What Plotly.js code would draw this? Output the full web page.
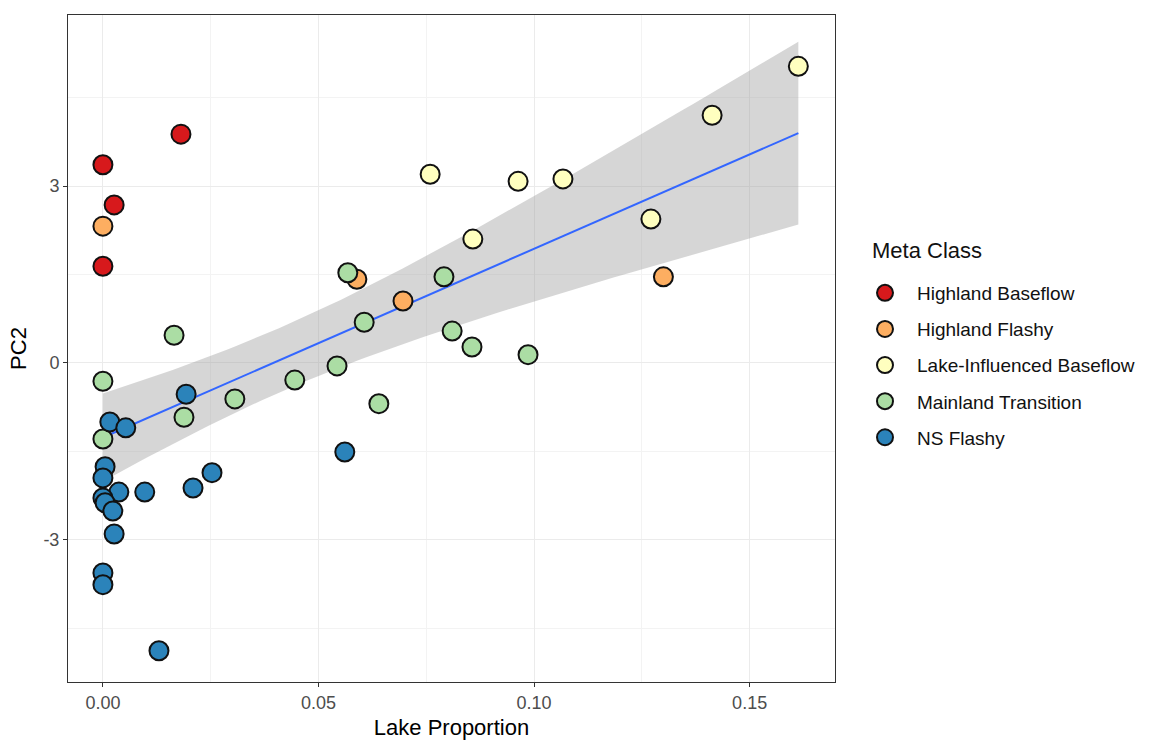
<!DOCTYPE html>
<html>
<head>
<meta charset="utf-8">
<script src="https://cdn.plot.ly/plotly-3.0.1.min.js"></script>
<style>html,body{margin:0;padding:0;background:#fff;}#chart{width:1156px;height:743px;}</style>
</head>
<body>
<div id="chart"></div>
<script>
// ---- Data ----
const classNames = ["Highland Baseflow", "Highland Flashy", "Lake-Influenced Baseflow", "Mainland Transition", "NS Flashy"];
const classColors = ["#d7191c", "#fdae61", "#ffffbf", "#abdda4", "#2b83ba"];
const legendTitle = "Meta Class";

const hbX = [0.0181, 0.0, 0.0026, 0.0];
const hbY = [3.88, 3.36, 2.68, 1.64];

const hfX = [0.0, 0.0589, 0.0696, 0.130];
const hfY = [2.32, 1.42, 1.05, 1.46];

const libX = [0.0759, 0.0963, 0.1067, 0.0858, 0.1271, 0.1413, 0.1613];
const libY = [3.20, 3.08, 3.12, 2.10, 2.44, 4.20, 5.03];

const mtX = [0.0165, 0.0, 0.0, 0.0188, 0.0306, 0.0445, 0.0543, 0.0568, 0.0606, 0.0640, 0.0791, 0.0810, 0.0856, 0.0986];
const mtY = [0.47, -0.31, -1.29, -0.92, -0.61, -0.29, -0.05, 1.53, 0.69, -0.69, 1.46, 0.54, 0.27, 0.14];

const nsX = [0.0193, 0.0016, 0.0053, 0.0005, 0.0, 0.0037, 0.0097, 0.0209, 0.0253, 0.0, 0.0005, 0.0023, 0.0026, 0.0, 0.0, 0.0130, 0.0561];
const nsY = [-0.53, -1.00, -1.10, -1.76, -1.95, -2.19, -2.19, -2.12, -1.86, -2.29, -2.37, -2.51, -2.90, -3.56, -3.76, -4.88, -1.51];

const xTickVals = [0, 0.05, 0.10, 0.15];
const xTickText = ["0.00", "0.05", "0.10", "0.15"];
const yTickVals = [-3, 0, 3];
const yTickText = ["-3", "0", "3"];

// ---- Linear fit with 95% confidence band (like geom_smooth(method="lm")) ----
const seriesX = [hbX, hfX, libX, mtX, nsX];
const seriesY = [hbY, hfY, libY, mtY, nsY];
const allX = [].concat(...seriesX);
const allY = [].concat(...seriesY);
const n = allX.length;
const mx = allX.reduce((a, b) => a + b, 0) / n;
const my = allY.reduce((a, b) => a + b, 0) / n;
let sxx = 0, sxy = 0;
for (let i = 0; i < n; i++) { sxx += (allX[i] - mx) ** 2; sxy += (allX[i] - mx) * (allY[i] - my); }
const slope = sxy / sxx;
const intercept = my - slope * mx;
let sse = 0;
for (let i = 0; i < n; i++) { const r = allY[i] - (intercept + slope * allX[i]); sse += r * r; }
const s = Math.sqrt(sse / (n - 2));
const tq = 2.017; // t(0.975, df ~ 43)
const xmin = Math.min(...allX), xmax = Math.max(...allX);
const fitX = [], fitY = [], upY = [], loY = [];
for (let k = 0; k < 80; k++) {
  const xv = xmin + (xmax - xmin) * k / 79;
  const yv = intercept + slope * xv;
  const se = s * Math.sqrt(1 / n + (xv - mx) ** 2 / sxx);
  fitX.push(xv); fitY.push(yv); upY.push(yv + tq * se); loY.push(yv - tq * se);
}

const traces = [];
traces.push({
  x: fitX.concat(fitX.slice().reverse()),
  y: upY.concat(loY.slice().reverse()),
  type: "scatter", mode: "lines", fill: "toself",
  fillcolor: "rgba(153,153,153,0.4)", line: {width: 0, color: "rgba(0,0,0,0)"},
  hoverinfo: "skip", showlegend: false
});
traces.push({
  x: fitX, y: fitY, type: "scatter", mode: "lines",
  line: {color: "#3366ff", width: 2}, hoverinfo: "skip", showlegend: false
});
for (let c = 0; c < classNames.length; c++) {
  traces.push({
    x: seriesX[c], y: seriesY[c], name: classNames[c],
    type: "scatter", mode: "markers", legendgroup: "g" + c,
    marker: {size: 19, color: classColors[c], line: {color: "#111111", width: 2}}
  });
}

const font = "Liberation Sans, Arial, sans-serif";
const layout = {
  width: 1156, height: 743,
  margin: {l: 68, r: 321, t: 15, b: 61},
  paper_bgcolor: "#ffffff", plot_bgcolor: "#ffffff",
  font: {family: font, color: "#4d4d4d"},
  xaxis: {
    range: [-0.0081, 0.1698], tickvals: xTickVals, ticktext: xTickText,
    showgrid: true, gridcolor: "#ebebeb", gridwidth: 1,
    minor: {tickvals: [0.025, 0.075, 0.125], showgrid: true, gridcolor: "#f3f3f3", gridwidth: 1},
    zeroline: false, showline: true, mirror: true, linecolor: "#333333", linewidth: 1,
    ticks: "outside", ticklen: 4, tickcolor: "#333333", tickwidth: 1,
    tickfont: {size: 18, color: "#4d4d4d", family: font},
    title: {text: "Lake Proportion", font: {size: 22, color: "#000000", family: font}, standoff: 8}
  },
  yaxis: {
    range: [-5.41, 5.90], tickvals: yTickVals, ticktext: yTickText,
    showgrid: true, gridcolor: "#ebebeb", gridwidth: 1,
    minor: {tickvals: [-4.5, -1.5, 1.5, 4.5], showgrid: true, gridcolor: "#f3f3f3", gridwidth: 1},
    zeroline: false, showline: true, mirror: true, linecolor: "#333333", linewidth: 1,
    ticks: "outside", ticklen: 4, tickcolor: "#333333", tickwidth: 1,
    tickfont: {size: 18, color: "#4d4d4d", family: font},
    title: {text: "PC2", font: {size: 22, color: "#000000", family: font}, standoff: 10}
  },
  showlegend: true,
  legend: {
    x: (853 - 68) / 767, xanchor: "left", y: (682 - 274) / 667, yanchor: "top",
    font: {size: 19, color: "#111111", family: font},
    tracegroupgap: 8.4, bgcolor: "rgba(0,0,0,0)", itemwidth: 54
  },
  annotations: [{
    text: legendTitle, xref: "paper", yref: "paper",
    x: (870 - 68) / 767, y: (682 - 250) / 667, xanchor: "left", yanchor: "middle",
    showarrow: false, font: {size: 22, color: "#111111", family: font}
  }]
};

Plotly.newPlot("chart", traces, layout, {displayModeBar: false, staticPlot: true});
</script>
</body>
</html>
